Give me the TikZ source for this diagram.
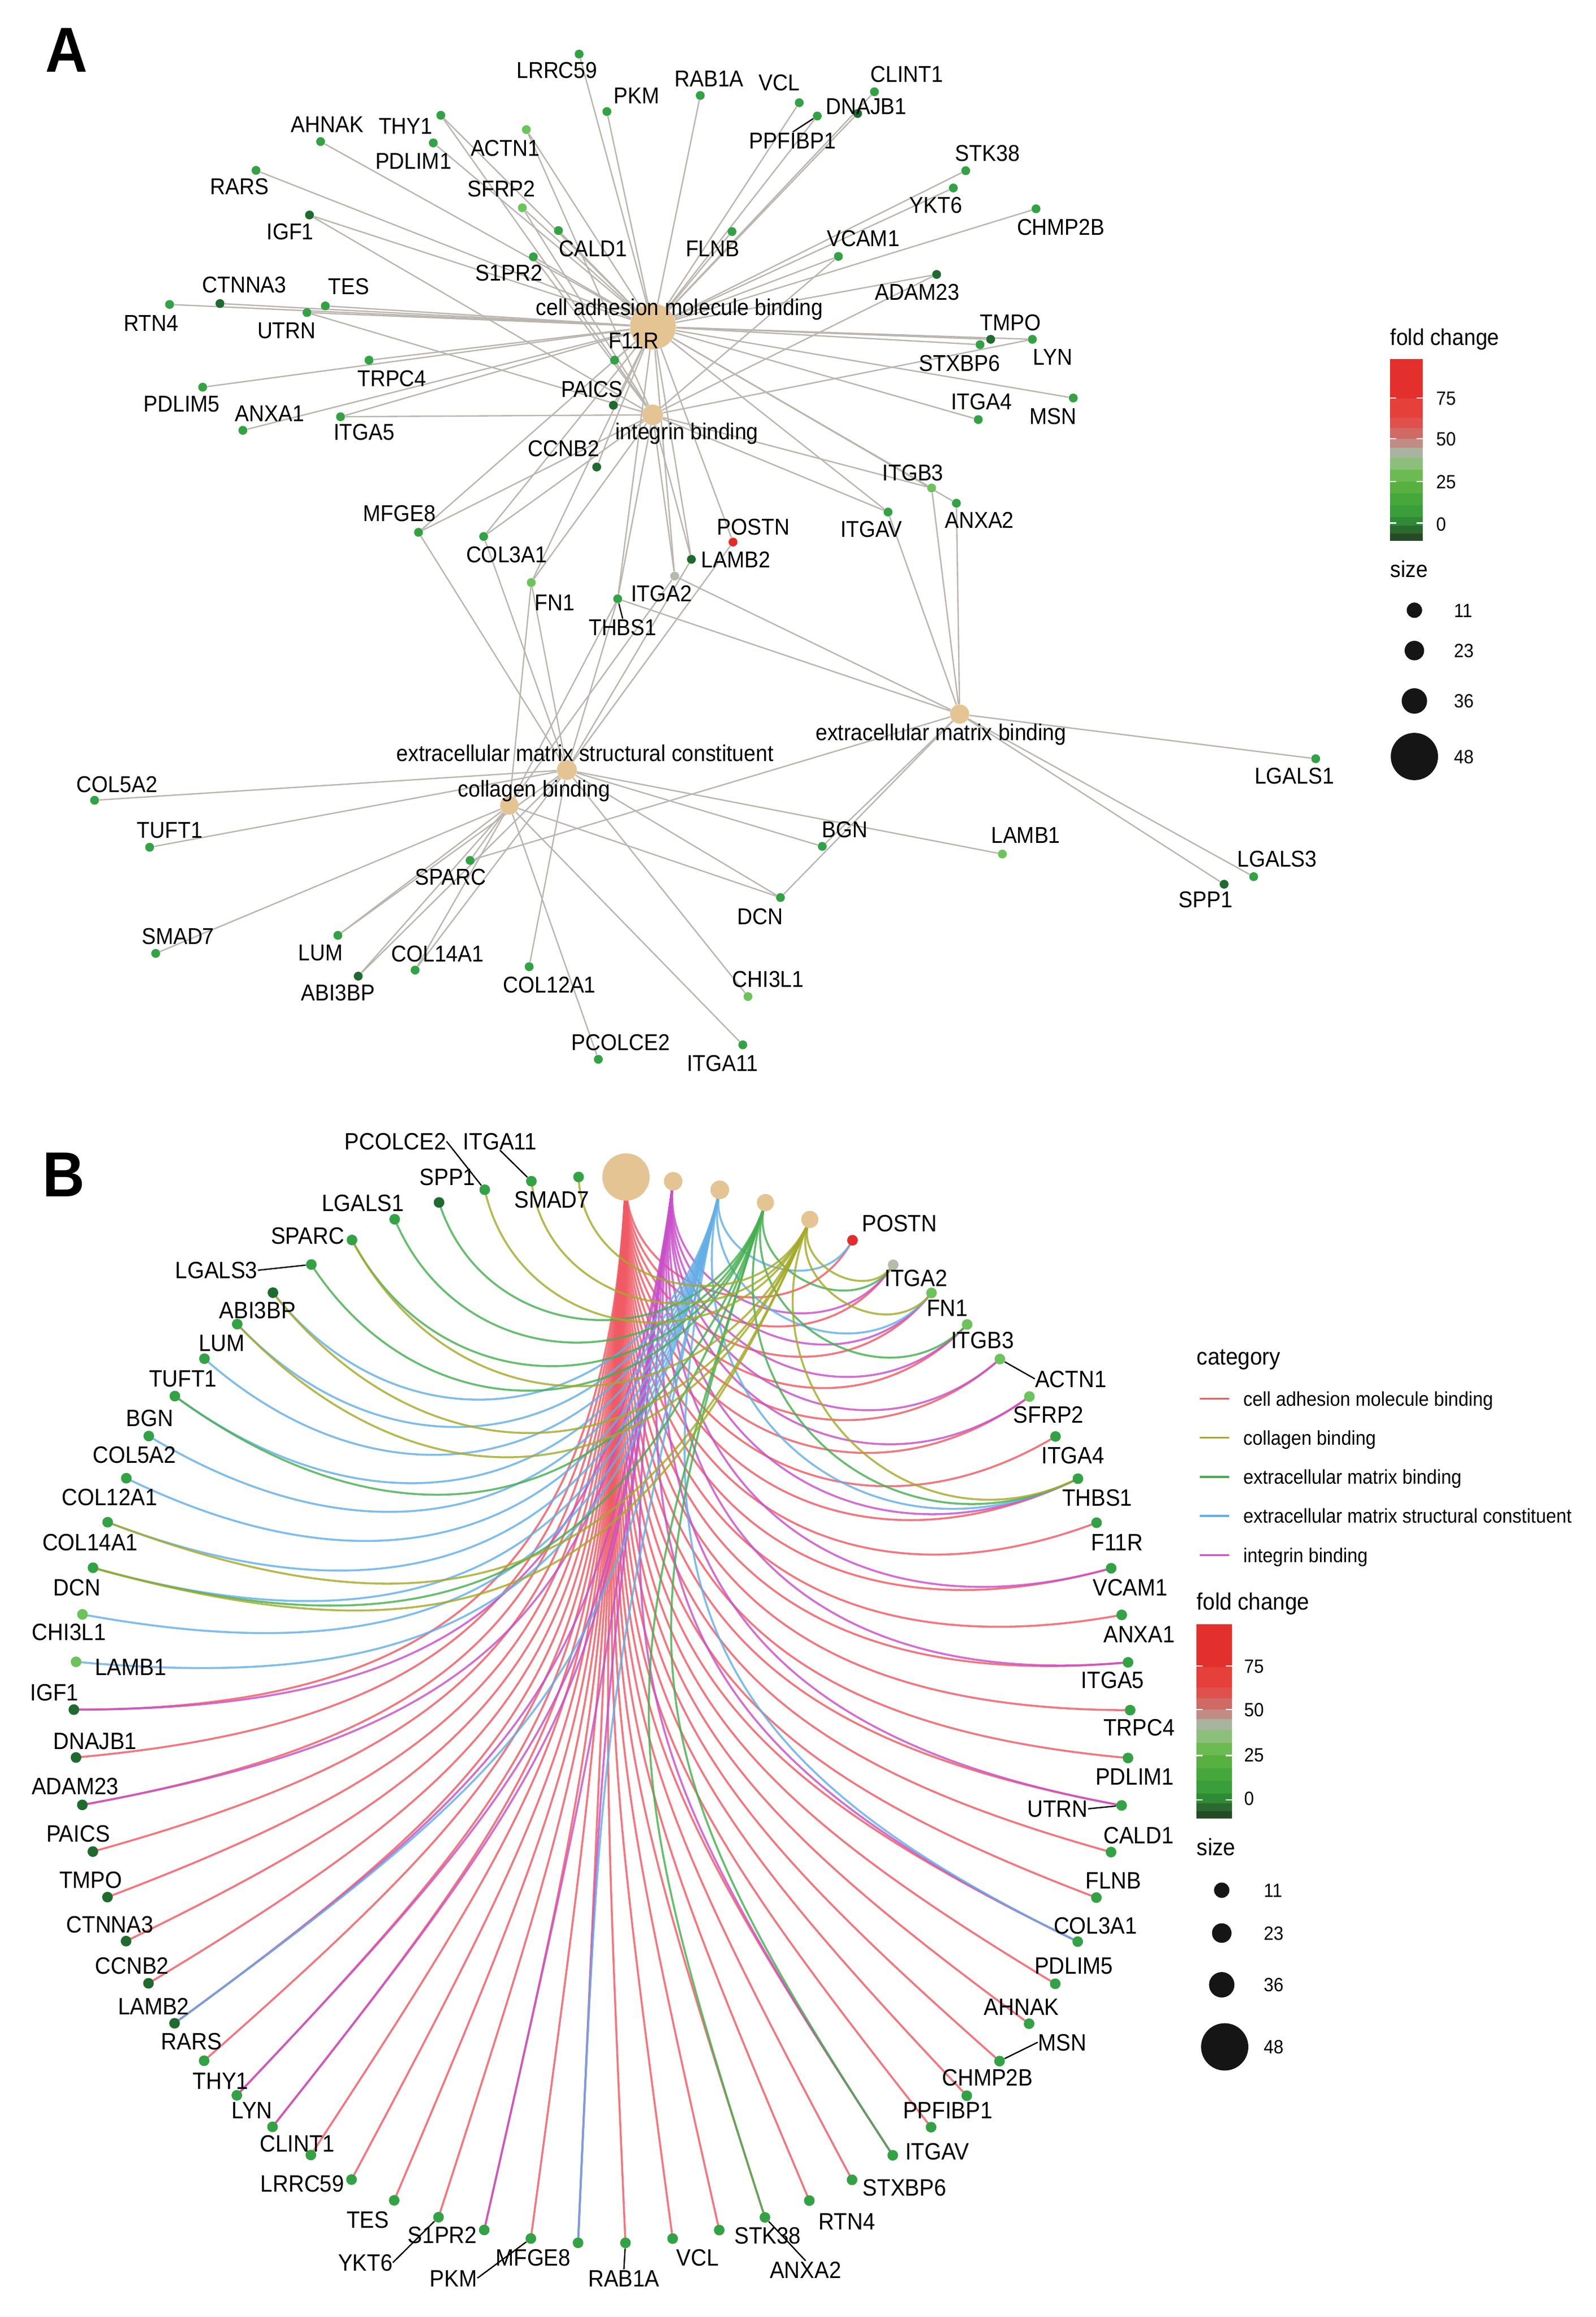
\documentclass[tikz,border=0pt]{standalone}
\usepackage{fontspec}
\setmainfont{Liberation Sans}[FakeStretch=0.92]
\usetikzlibrary{calc}
\pgfdeclarelayer{bglayer}
\pgfdeclarelayer{edgelayer}
\pgfsetlayers{bglayer,edgelayer,main}
\definecolor{hubcol}{HTML}{E5C494}
\definecolor{fcred}{HTML}{E22B2B}
\definecolor{fcgray}{HTML}{B4BCAC}
\definecolor{fcdark}{HTML}{1F6A2E}
\definecolor{fcmed}{HTML}{33A244}
\definecolor{fclight}{HTML}{6CC35C}
\definecolor{egray}{HTML}{BAB5AF}
\definecolor{catC}{HTML}{F05A64}
\definecolor{catK}{HTML}{A5AA2A}
\definecolor{catE}{HTML}{46AF50}
\definecolor{catS}{HTML}{64AFE6}
\definecolor{catI}{HTML}{C850C8}
\definecolor{szblk}{HTML}{151515}
\definecolor{cb1}{HTML}{E3302C}
\definecolor{cb2}{HTML}{E5403A}
\definecolor{cb3}{HTML}{E0504C}
\definecolor{cb4}{HTML}{CF6A64}
\definecolor{cb5}{HTML}{C08C84}
\definecolor{cb6}{HTML}{A8B4A0}
\definecolor{cb7}{HTML}{8CC07A}
\definecolor{cb8}{HTML}{6CBA52}
\definecolor{cb9}{HTML}{58B040}
\definecolor{cb10}{HTML}{46A83C}
\definecolor{cb11}{HTML}{3A9E3A}
\definecolor{cb12}{HTML}{2E8A34}
\definecolor{cb13}{HTML}{2A6A2E}
\definecolor{cb14}{HTML}{264A26}
\newcommand\fs[1]{\fontsize{#1}{#1}\selectfont}
\newcommand\fcbar[4]{%
  \foreach \fa/\fb/\cn in {0/0.221/cb1,0.221/0.326/cb2,0.326/0.383/cb3,0.383/0.44/cb4,0.44/0.489/cb5,0.489/0.546/cb6,0.546/0.612/cb7,0.612/0.677/cb8,0.677/0.742/cb9,0.742/0.807/cb10,0.807/0.873/cb11,0.873/0.922/cb12,0.922/0.963/cb13,0.963/1/cb14}{%
    \fill[\cn] (#1,{#2+\fa*(#4-#2)-0.2}) rectangle (#3,{#2+\fb*(#4-#2)+0.2});}%
  \foreach \ft in {0.215,0.439,0.676,0.905}{%
    \draw[white,line width=0.8pt] (#1,{#2+\ft*(#4-#2)}) -- ++(4,0);
    \draw[white,line width=0.8pt] (#3,{#2+\ft*(#4-#2)}) -- ++(-4,0);}%
}
\newcommand\bedge[3]{%
  \pgfmathsetmacro\phh{#1*5.142857-87.4}%
  \pgfmathsetmacro\phg{#2*5.142857-87.4}%
  \pgfmathsetmacro\ff{1-sin((#2-#1)*2.5714286)}%
  \pgfmathsetmacro\axa{407.5+357.5*\ff*cos(\phh)}%
  \pgfmathsetmacro\aya{1157+361*\ff*sin(\phh)}%
  \pgfmathsetmacro\axb{407.5+357.5*\ff*cos(\phg)}%
  \pgfmathsetmacro\ayb{1157+361*\ff*sin(\phg)}%
  \draw[bedge,#3] (b#1.center) .. controls (\axa,\aya) and (\axb,\ayb) .. (b#2.center);%
}
\def\genesA{%
LRRC59/392/36.6/377/47.5/fcmed,%
PKM/410.8/75.5/430.8/64.6/fcmed,%
RAB1A/474/64.6/480/53/fcmed,%
VCL/541/69.5/527.5/56/fcmed,%
CLINT1/591.9/62.1/613.8/50/fcmed,%
DNAJB1/580.5/76.8/586.4/71.9/fcdark,%
PPFIBP1/553.2/78.5/536.6/95/fcmed,%
AHNAK/217/95.8/221.6/84/fcmed,%
THY1/298.4/78/274.6/85.3/fcmed,%
PDLIM1/293.3/96.7/279.8/109/fcmed,%
ACTN1/356.3/87.7/342/100/fclight,%
SFRP2/353.6/140.6/339.4/127.5/fclight,%
RARS/173.3/115.3/162/126/fcmed,%
IGF1/209.5/145.5/196.4/156.7/fcdark,%
CALD1/378/156/401.5/168/fcmed,%
S1PR2/361/173.8/344.6/184.5/fcmed,%
FLNB/495.5/156.7/482.4/168/fcmed,%
STK38/653.7/115.5/668.5/103.6/fcmed,%
YKT6/645.3/127.2/633.5/138.9/fcmed,%
CHMP2B/701.3/141.3/718.1/153.5/fcmed,%
VCAM1/567.5/173.5/584.3/161.3/fcmed,%
ADAM23/634/185.7/620.9/197.4/fcdark,%
CTNNA3/148.9/205.4/165.4/192.5/fcdark,%
TES/220.2/207/236/193.7/fcmed,%
RTN4/114.8/206/102.3/218.6/fcmed,%
UTRN/207.8/211.5/194/223.5/fcmed,%
TMPO/670.6/229.6/684/218.1/fcdark,%
STXBP6/663.4/233.2/649.5/245.7/fcmed,%
LYN/698.8/229.6/712.7/241.3/fcmed,%
F11R/416/243.7/429/230.3/fcmed,%
TRPC4/249.8/243.7/265.3/255.9/fcmed,%
PDLIM5/137.2/262/123/273/fcmed,%
ANXA1/164.4/291.2/182.6/279.8/fcmed,%
ITGA5/230.5/282/246.4/292.4/fcmed,%
PAICS/415.2/274.2/400.8/263.2/fcdark,%
ITGA4/662.2/283.9/664.3/271.7/fcmed,%
MSN/726.5/269.3/712.7/281.5/fcmed,%
CCNB2/403.9/316/381.5/303.4/fcdark,%
ITGB3/630.6/330.2/618/319.7/fclight,%
ITGAV/601.1/346.5/589.8/357.8/fcmed,%
ANXA2/647.4/340.5/663/351.7/fcmed,%
MFGE8/283.3/360.2/270.5/347.3/fcmed,%
COL3A1/327.4/363/342.9/375.3/fcmed,%
POSTN/496.2/366.8/510/356.3/fcred,%
LAMB2/468/378.5/498/378.5/fcdark,%
FN1/359.6/394.2/375.4/407.8/fclight,%
ITGA2/456.7/389.8/447.7/401.4/fcgray,%
THBS1/418.1/405.2/421.5/424.4/fcmed,%
COL5A2/64/541.5/79.2/530.5/fcmed,%
TUFT1/101.3/573.3/115/561.7/fcmed,%
SPARC/318.2/582.2/305.1/593.2/fcmed,%
SMAD7/105.4/645.1/120.5/633.6/fcmed,%
LUM/228.7/632.9/217/644.4/fcmed,%
ABI3BP/242.5/660.5/228.7/671.7/fcdark,%
COL14A1/281/656.4/296.2/645.1/fcmed,%
COL12A1/358.2/654.1/372/666.1/fcmed,%
PCOLCE2/405/716.8/420.2/705.2/fcmed,%
ITGA11/502.8/707/489/719.3/fcmed,%
CHI3L1/506.3/674.3/520/662.3/fclight,%
DCN/528.3/607.3/514.5/620.1/fcmed,%
BGN/556.6/572.7/571.7/561.2/fcmed,%
LAMB1/678.5/577.9/694.3/565.1/fclight,%
LGALS1/890.6/513.4/876.2/524.9/fcmed,%
LGALS3/848.6/593.2/864.5/581.2/fcmed,%
SPP1/828.6/598.3/816.2/608.6/fcdark}
\def\genesB{%
5/POSTN/fcred/608.9/827.7,%
6/ITGA2/fcgray/620/864.5,%
7/FN1/fclight/641.2/884.8,%
8/ITGB3/fclight/665/906.5,%
9/ACTN1/fclight/724.8/933,%
10/SFRP2/fclight/709.8/957,%
11/ITGA4/fcmed/726.3/984.7,%
12/THBS1/fcmed/742.7/1013.4,%
13/F11R/fcmed/756.2/1043.6,%
14/VCAM1/fcmed/765.1/1074.2,%
15/ANXA1/fcmed/771.1/1105.8,%
16/ITGA5/fcmed/753.2/1136.6,%
17/TRPC4/fcmed/771.1/1168.8,%
18/PDLIM1/fcmed/768.1/1201.8,%
19/UTRN/fcmed/715.9/1223.9,%
20/CALD1/fcmed/770.7/1241.7,%
21/FLNB/fcmed/753.7/1272.4,%
22/COL3A1/fcmed/741.5/1302.9,%
23/PDLIM5/fcmed/726.9/1330,%
24/AHNAK/fcmed/691.5/1358,%
25/MSN/fcmed/719/1381.9,%
26/CHMP2B/fcmed/668.4/1405.6,%
27/PPFIBP1/fcmed/641.6/1427.7,%
28/ITGAV/fcmed/634.3/1455.6,%
29/STXBP6/fcmed/612.3/1480,%
30/RTN4/fcmed/573.3/1503.2,%
31/ANXA2/fcmed/545.3/1535.7,%
32/STK38/fcmed/519.7/1512.5,%
33/VCL/fcmed/472.2/1527.6,%
34/RAB1A/fcmed/422.3/1541.5,%
35/MFGE8/fcmed/360.9/1527.6,%
36/PKM/fcmed/307/1541.5,%
37/S1PR2/fcmed/299.5/1512,%
38/YKT6/fcmed/247.3/1531,%
39/TES/fcmed/249/1502,%
40/LRRC59/fcmed/204.7/1477.6,%
41/CLINT1/fcmed/201.3/1450.2,%
42/LYN/fcmed/170.6/1427.7,%
43/THY1/fcmed/149.4/1407.9,%
44/RARS/fcmed/129.6/1381.2,%
45/LAMB2/fcdark/104/1357.3,%
46/CCNB2/fcdark/89.4/1330,%
47/CTNNA3/fcdark/74.4/1302.2,%
48/TMPO/fcdark/61.4/1272,%
49/PAICS/fcdark/52.9/1240.6,%
50/ADAM23/fcdark/50.9/1208.6,%
51/DNAJB1/fcdark/64.3/1177.8,%
52/IGF1/fcdark/36.8/1145,%
53/LAMB1/fclight/88.4/1127.7,%
54/CHI3L1/fclight/46.7/1104.1,%
55/DCN/fcmed/52/1073.9,%
56/COL14A1/fcmed/61/1043.3,%
57/COL12A1/fcmed/74.1/1013,%
58/COL5A2/fcmed/91/984.1,%
59/BGN/fcmed/101.3/959.4,%
60/TUFT1/fcmed/123.9/932.6,%
61/LUM/fcmed/150.2/908.5,%
62/ABI3BP/fcdark/174.3/886.5,%
63/LGALS3/fcmed/146.5/859.5,%
64/SPARC/fcmed/208.2/836.1,%
65/LGALS1/fcmed/245.6/814,%
66/SPP1/fcdark/302.9/796.2,%
67/PCOLCE2/fcmed/267.7/772.3,%
68/ITGA11/fcmed/338.4/772.3,%
69/SMAD7/fcmed/373.5/811.5}
\begin{document}
\begin{tikzpicture}[x=1pt,y=-1pt,
  dotA/.style={circle,inner sep=0pt,minimum size=6pt},
  dotB/.style={circle,inner sep=0pt,minimum size=7.2pt},
  hubnode/.style={circle,inner sep=0pt,fill=hubcol},
  labA/.style={inner sep=0pt,font=\fs{15.5},text height=11pt,text depth=0pt},
  labB/.style={inner sep=0pt,font=\fs{16},text height=11.5pt,text depth=0pt},
  legtitle/.style={inner sep=0pt,font=\fs{15.5},anchor=west,text height=11pt,text depth=0pt},
  legtext/.style={inner sep=0pt,font=\fs{13.5},anchor=west,text height=9.7pt,text depth=0pt},
  ticklab/.style={inner sep=0pt,font=\fs{13},anchor=west,text height=9.3pt,text depth=0pt},
  aedge/.style={egray,line width=0.9pt},
  bedge/.style={line width=1.35pt,opacity=0.82},
  leader/.style={black,line width=0.9pt},
  panel/.style={inner sep=0pt,font=\fs{43}\bfseries},
  sizedot/.style={circle,inner sep=0pt,fill=szblk},
]
\begin{pgfonlayer}{bglayer}
\fill[white] (0,0) rectangle (1080,1567.8);
\end{pgfonlayer}
\useasboundingbox (0,0) rectangle (1080,1567.8);

%%%%%%%%%%%%%%%% PANEL A %%%%%%%%%%%%%%%%
\node[panel] (pA) at (45,34) {A};
\node[hubnode,minimum size=31pt] (hC) at (442,221) {};
\node[hubnode,minimum size=14pt] (hI) at (441.8,280.7) {};
\node[hubnode,minimum size=13pt] (hE) at (649.6,483.2) {};
\node[hubnode,minimum size=13.5pt] (hS) at (383.7,521) {};
\node[hubnode,minimum size=12.5pt] (hK) at (344.8,545) {};
\foreach \n/\x/\y/\lx/\ly/\cl in \genesA{
  \node[dotA,fill=\cl] (a\n) at (\x,\y) {};
}
\node[labA] (tC) at (460,208) {cell adhesion molecule binding};
\node[labA] (tI) at (465,292) {integrin binding};
\node[labA] (tE) at (637,495.5) {extracellular matrix binding};
\node[labA] (tS) at (396,509.6) {extracellular matrix structural constituent};
\node[labA] (tK) at (361.6,533.6) {collagen binding};
\foreach \n/\x/\y/\lx/\ly/\cl in \genesA{
  \node[labA] (la\n) at (\lx,\ly) {\n};
}
\draw[leader] (aPPFIBP1) -- (laPPFIBP1.north);
\draw[leader] (aTHBS1) -- (laTHBS1.north);

\begin{pgfonlayer}{edgelayer}
\foreach \g in {POSTN,ITGA2,FN1,ITGB3,ACTN1,SFRP2,ITGA4,THBS1,F11R,VCAM1,ANXA1,ITGA5,TRPC4,PDLIM1,UTRN,CALD1,FLNB,COL3A1,PDLIM5,AHNAK,MSN,CHMP2B,PPFIBP1,ITGAV,STXBP6,RTN4,ANXA2,STK38,VCL,RAB1A,MFGE8,PKM,S1PR2,YKT6,TES,LRRC59,CLINT1,LYN,THY1,RARS,LAMB2,CCNB2,CTNNA3,TMPO,PAICS,ADAM23,DNAJB1,IGF1}{\draw[aedge] (a\g) -- (hC);}
\foreach \g in {ITGA2,FN1,ITGB3,ACTN1,SFRP2,THBS1,VCAM1,ITGA5,UTRN,COL3A1,ITGAV,MFGE8,S1PR2,LYN,THY1,LAMB2,ADAM23,IGF1}{\draw[aedge] (a\g) -- (hI);}
\foreach \g in {POSTN,FN1,THBS1,COL3A1,MFGE8,LAMB2,LAMB1,CHI3L1,DCN,COL14A1,COL12A1,COL5A2,BGN,TUFT1,LUM,ABI3BP}{\draw[aedge] (a\g) -- (hS);}
\foreach \g in {ITGA2,ITGB3,THBS1,ITGAV,ANXA2,DCN,BGN,LGALS3,SPARC,LGALS1,SPP1}{\draw[aedge] (a\g) -- (hE);}
\foreach \g in {ITGA2,FN1,THBS1,DCN,COL14A1,LUM,ABI3BP,SPARC,PCOLCE2,ITGA11,SMAD7}{\draw[aedge] (a\g) -- (hK);}
\end{pgfonlayer}

% legend A
\node[legtitle] (fcA) at (941,228) {fold change};
\fcbar{941}{243}{963}{365.6}
\node[ticklab] (t75a) at (972,269.3) {75};
\node[ticklab] (t50a) at (972,296.8) {50};
\node[ticklab] (t25a) at (972,326) {25};
\node[ticklab] (t0a) at (972,354.6) {0};
\node[legtitle] (szA) at (941,385) {size};
\node[sizedot,minimum size=10.4pt] (s11a) at (957.4,412.9) {};
\node[sizedot,minimum size=13.2pt] (s23a) at (957.4,440.2) {};
\node[sizedot,minimum size=17.2pt] (s36a) at (957.4,474.3) {};
\node[sizedot,minimum size=32pt] (s48a) at (957.4,511.9) {};
\node[ticklab] (n11a) at (984,412.9) {11};
\node[ticklab] (n23a) at (984,440.2) {23};
\node[ticklab] (n36a) at (984,474.3) {36};
\node[ticklab] (n48a) at (984,511.9) {48};

%%%%%%%%%%%%%%%% PANEL B %%%%%%%%%%%%%%%%
\node[panel] (pB) at (43,795) {B};
\coordinate (bO) at (407.5,1157);
\foreach \k/\sz in {0/32,1/12.5,2/12.6,3/11.6,4/11.6}{
  \pgfmathsetmacro\ph{\k*5.142857-87.4}
  \pgfmathsetmacro\bx{407.5+357.5*cos(\ph)}
  \pgfmathsetmacro\by{1157+361*sin(\ph)}
  \node[hubnode,minimum size=\sz pt] (b\k) at (\bx,\by) {};
}
\foreach \k/\n/\cl/\lx/\ly in \genesB{
  \pgfmathsetmacro\ph{\k*5.142857-87.4}
  \pgfmathsetmacro\bx{407.5+357.5*cos(\ph)}
  \pgfmathsetmacro\by{1157+361*sin(\ph)}
  \node[dotB,fill=\cl] (b\k) at (\bx,\by) {};
}
\foreach \k/\n/\cl/\lx/\ly in \genesB{
  \node[labB] (lb\k) at (\lx,\ly) {\n};
}
\draw[leader] (b9) -- (lb9.west);
\draw[leader] (lb19.east) -- (b19);
\draw[leader] (lb25.west) -- (b25);
\draw[leader] (b31) -- (lb31.north);
\draw[leader] (b34) -- (lb34.north);
\draw[leader] (lb36.east) -- (b36);
\draw[leader] (lb38.east) -- (b38);
\draw[leader] (lb63.east) -- (b63);
\draw[leader] (lb67.east) -- (b67);
\draw[leader] (lb68.south) -- (b68);

\begin{pgfonlayer}{edgelayer}
\foreach \k in {5,...,52}{\bedge{0}{\k}{catC}}
\foreach \k in {6,7,8,9,10,12,14,16,19,22,28,35,37,42,43,45,50,52}{\bedge{1}{\k}{catI}}
\foreach \k in {5,7,12,22,35,45,53,54,55,56,57,58,59,60,61,62}{\bedge{2}{\k}{catS}}
\foreach \k in {6,8,12,28,31,55,59,63,64,65,66}{\bedge{3}{\k}{catE}}
\foreach \k in {6,7,12,55,56,61,62,64,67,68,69}{\bedge{4}{\k}{catK}}
\end{pgfonlayer}

% legend B
\node[legtitle,font=\fs{16}] (catT) at (810,918) {category};
\foreach \i/\cc/\txt in {0/catC/cell adhesion molecule binding,1/catK/collagen binding,2/catE/extracellular matrix binding,3/catS/extracellular matrix structural constituent,4/catI/integrin binding}{
  \draw[\cc,line width=1.4pt] (812,{946.4+\i*26.45}) -- (832,{946.4+\i*26.45});
  \node[legtext] (cat\i) at (841.4,{946.4+\i*26.45}) {\txt};
}
\node[legtitle,font=\fs{16}] (fcB) at (810,1084) {fold change};
\fcbar{810}{1099.1}{833.9}{1230.4}
\node[ticklab] (t75b) at (842,1127.3) {75};
\node[ticklab] (t50b) at (842,1156.7) {50};
\node[ticklab] (t25b) at (842,1187.6) {25};
\node[ticklab] (t0b) at (842,1217) {0};
\node[legtitle,font=\fs{16}] (szB) at (810,1250) {size};
\node[sizedot,minimum size=10.4pt] (s11b) at (827,1279) {};
\node[sizedot,minimum size=13.2pt] (s23b) at (827,1308) {};
\node[sizedot,minimum size=17.2pt] (s36b) at (827,1343) {};
\node[sizedot,minimum size=32pt] (s48b) at (829,1385) {};
\node[ticklab] (n11b) at (855.3,1279) {11};
\node[ticklab] (n23b) at (855.3,1308) {23};
\node[ticklab] (n36b) at (855.3,1343) {36};
\node[ticklab] (n48b) at (855.3,1385) {48};
\end{tikzpicture}
\end{document}
